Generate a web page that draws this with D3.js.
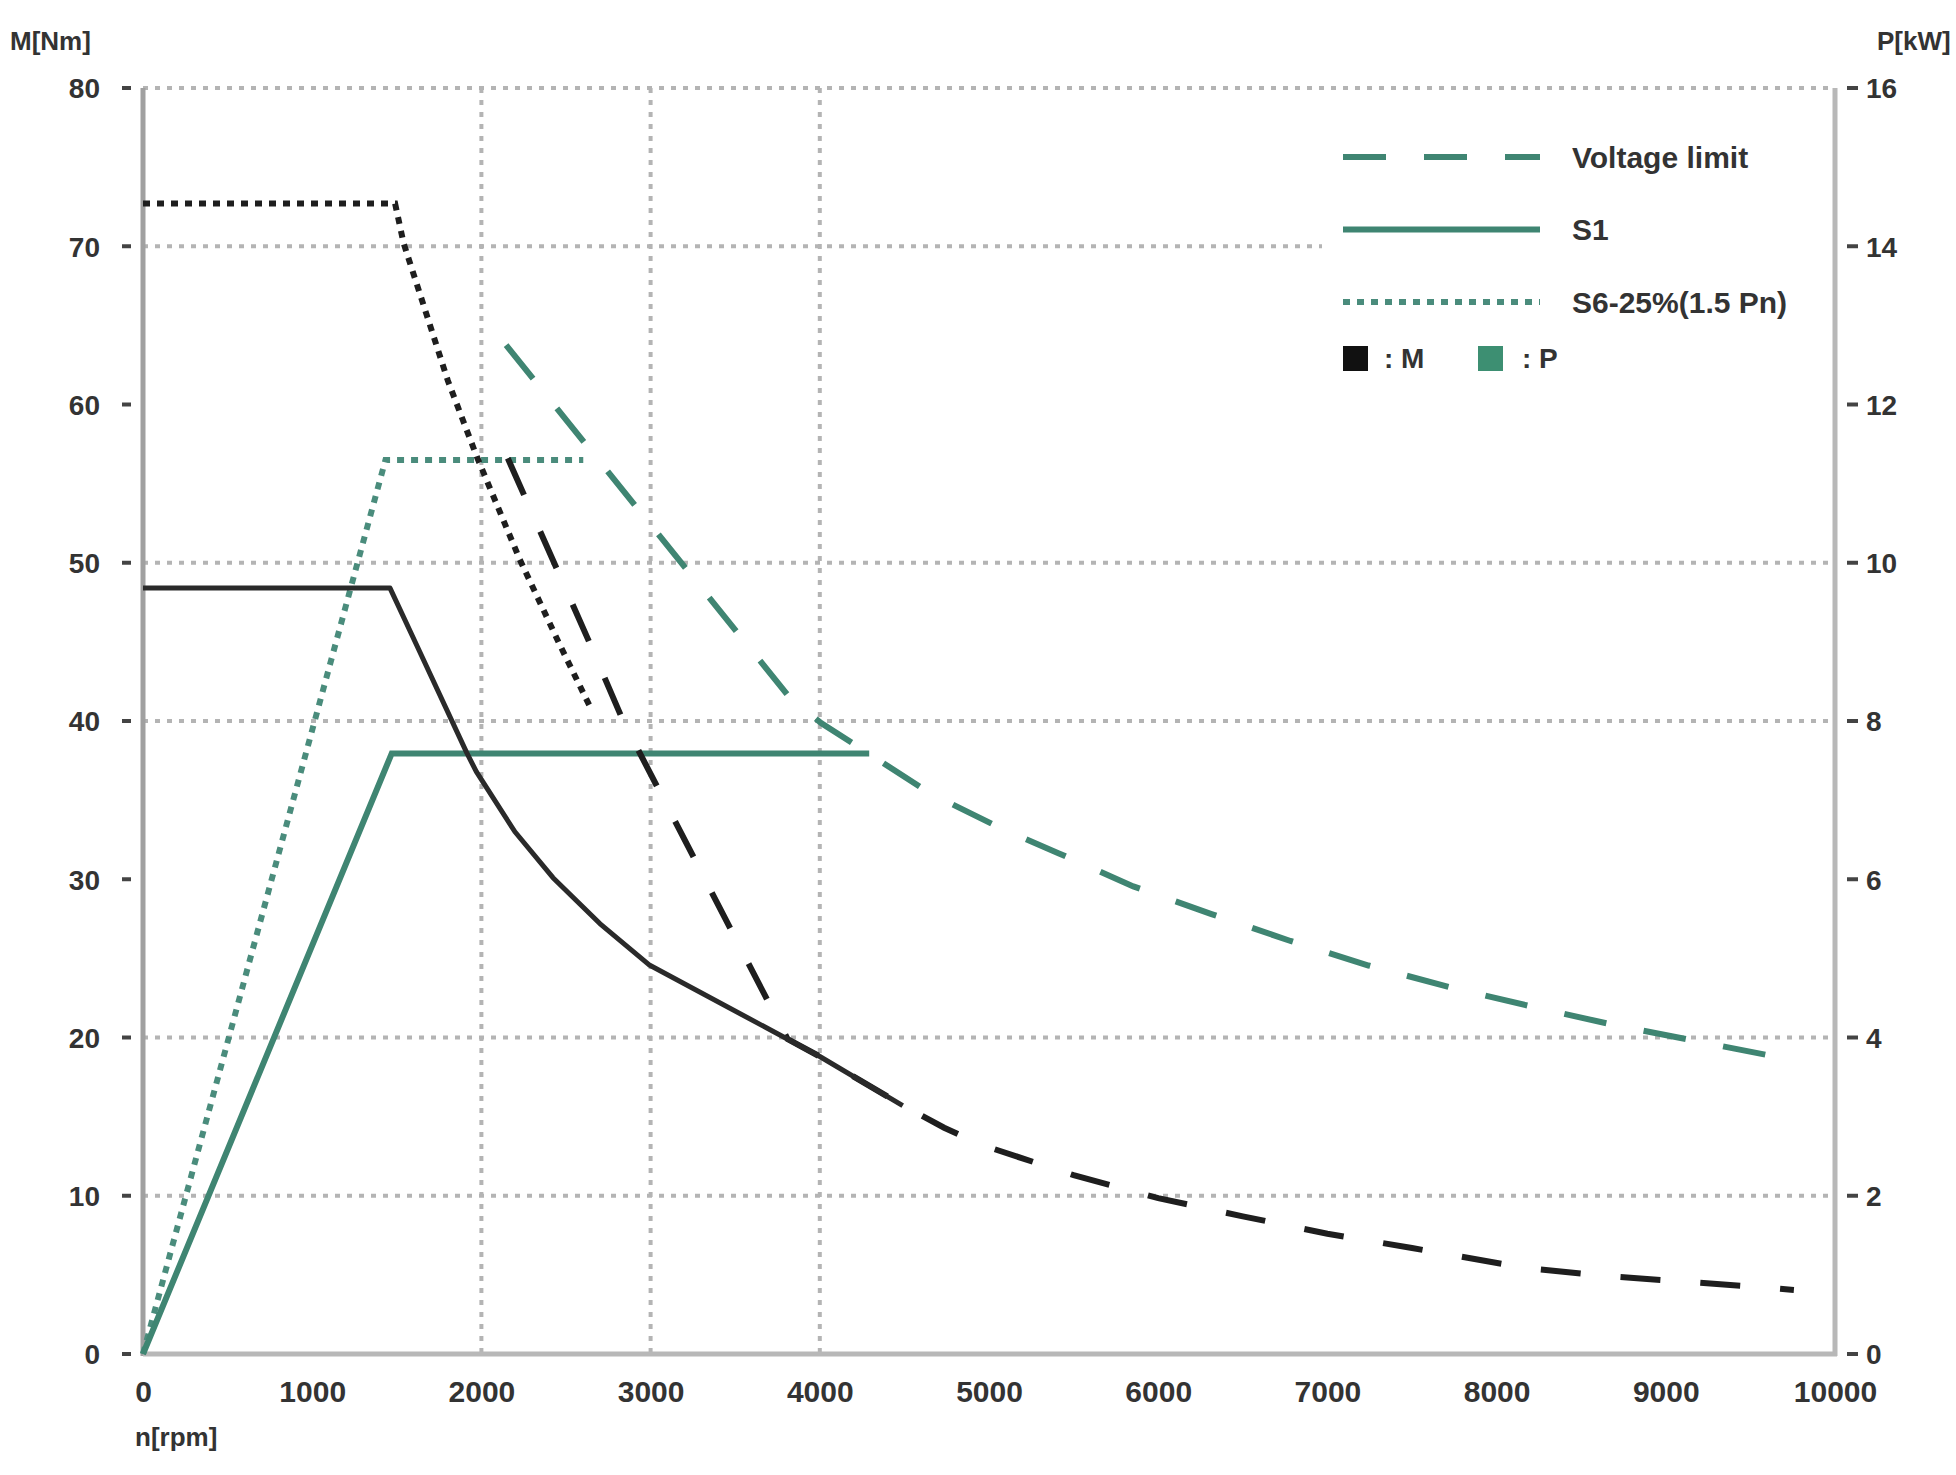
<!DOCTYPE html>
<html>
<head>
<meta charset="utf-8">
<script src="https://cdn.jsdelivr.net/npm/d3@7/dist/d3.min.js"></script>
<style>
  html, body { margin: 0; padding: 0; background: #fff; }
  svg { display: block; }
  text { font-family: "Liberation Sans", Arial, sans-serif; font-weight: bold; fill: #333; }
</style>
</head>
<body>
<script>
// Axis ticks and grid positions
const rpmTicks = [0, 1000, 2000, 3000, 4000, 5000, 6000, 7000, 8000, 9000, 10000];
const torqueTicks = [0, 10, 20, 30, 40, 50, 60, 70, 80];
const powerTicks = [0, 2, 4, 6, 8, 10, 12, 14, 16];
const torqueGrid = [10, 20, 40, 50, 70, 80];
const rpmGrid = [2000, 3000, 4000];

// Torque curves M [Nm] vs speed n [rpm]
const s1Torque = [[0, 48.4], [1460, 48.4], [1617, 44.8], [1913, 38.0], [1970, 36.8], [2198, 33.0],
  [2423, 30.1], [2700, 27.2], [2990, 24.6], [4000, 18.8], [4490, 15.7]];
const s6Torque = [[0, 72.7], [1490, 72.7], [1540, 70.2], [1802, 61.5], [1973, 56.7],
  [2227, 50.2], [2464, 44.8], [2642, 40.9]];
const vlimTorque = [[2156, 56.6], [2641, 44.9], [2836, 40.05], [3727, 21.6], [3810, 19.9],
  [4000, 18.8], [4490, 15.7], [4735, 14.3], [4960, 13.2], [5500, 11.3], [6000, 9.85],
  [6500, 8.7], [7000, 7.6], [7500, 6.7], [8172, 5.43], [8645, 4.93], [9136, 4.55],
  [9622, 4.17], [9757, 4.05]];

// Power curves P [kW] vs speed n [rpm]
const s1Power = [[0, 0], [1470, 7.59], [4292, 7.59]];
const s6Power = [[0, 0], [1433, 11.3], [2602, 11.3]];
const vlimPower = [[2146, 12.75], [3824, 8.29], [4010, 7.97], [4237, 7.66], [4648, 7.09],
  [5075, 6.64], [5410, 6.33], [5853, 5.91], [6315, 5.56], [6782, 5.22], [7243, 4.91],
  [7717, 4.64], [8190, 4.40], [8669, 4.17], [9143, 3.97], [9622, 3.77], [9740, 3.70]];

const legendLines = ["Voltage limit", "S1", "S6-25%(1.5 Pn)"];

const W = 1956, H = 1475;
const BLACK = "#1e1e1e", GREEN = "#3f8572", GRID = "#b4b4b4", AXIS = "#a0a0a0";

const svg = d3.select("body").append("svg").attr("width", W).attr("height", H);

const x = d3.scaleLinear().domain([0, 10000]).range([143, 1835]);
const yM = d3.scaleLinear().domain([0, 80]).range([1354, 88]);
const yP = d3.scaleLinear().domain([0, 16]).range([1354, 88]);

// Dotted grid
const grid = svg.append("g");
grid.selectAll("line.h").data(torqueGrid).join("line")
  .attr("x1", x(0)).attr("x2", x(10000))
  .attr("y1", d => yM(d)).attr("y2", d => yM(d))
  .attr("stroke", GRID).attr("stroke-width", 4).attr("stroke-dasharray", "5,7");
grid.selectAll("line.v").data(rpmGrid).join("line")
  .attr("x1", d => x(d)).attr("x2", d => x(d))
  .attr("y1", yM(80)).attr("y2", yM(0))
  .attr("stroke", GRID).attr("stroke-width", 4).attr("stroke-dasharray", "5,7");

// Axis frame lines (left, bottom, right)
svg.append("line").attr("x1", x(0)).attr("x2", x(0)).attr("y1", yM(80)).attr("y2", yM(0) + 2)
  .attr("stroke", AXIS).attr("stroke-width", 5);
svg.append("line").attr("x1", x(0)).attr("x2", x(10000) + 2).attr("y1", yM(0)).attr("y2", yM(0))
  .attr("stroke", "#b8b8b8").attr("stroke-width", 5);
svg.append("line").attr("x1", x(10000)).attr("x2", x(10000)).attr("y1", yM(80)).attr("y2", yM(0) + 2)
  .attr("stroke", "#b8b8b8").attr("stroke-width", 5);

// Left axis: torque
const leftAxis = d3.axisLeft(yM).tickValues(torqueTicks).tickSize(0).tickPadding(0);
const gL = svg.append("g").attr("transform", "translate(100,0)").call(leftAxis);
gL.select(".domain").remove();
gL.selectAll("text").attr("font-size", 28).attr("dy", "0.35em").attr("fill", "#333");
svg.append("g").selectAll("line").data(torqueTicks).join("line")
  .attr("x1", 122).attr("x2", 131).attr("y1", d => yM(d)).attr("y2", d => yM(d))
  .attr("stroke", "#444").attr("stroke-width", 4);

// Right axis: power
const rightAxis = d3.axisRight(yP).tickValues(powerTicks).tickSize(0).tickPadding(0);
const gR = svg.append("g").attr("transform", "translate(1866,0)").call(rightAxis);
gR.select(".domain").remove();
gR.selectAll("text").attr("font-size", 28).attr("dy", "0.35em").attr("fill", "#333");
svg.append("g").selectAll("line").data(powerTicks).join("line")
  .attr("x1", 1847).attr("x2", 1858).attr("y1", d => yP(d)).attr("y2", d => yP(d))
  .attr("stroke", "#444").attr("stroke-width", 4);

// Bottom axis: speed
const bottomAxis = d3.axisBottom(x).tickValues(rpmTicks).tickSize(0).tickPadding(0)
  .tickFormat(d3.format("d"));
const gB = svg.append("g").attr("transform", "translate(0,1381)").call(bottomAxis);
gB.select(".domain").remove();
gB.selectAll("text").attr("font-size", 30).attr("dy", "0.71em").attr("fill", "#333");

// Axis titles
svg.append("text").attr("x", 10).attr("y", 50).attr("font-size", 26).text("M[Nm]");
svg.append("text").attr("x", 1877).attr("y", 50).attr("font-size", 26).text("P[kW]");
svg.append("text").attr("x", 135).attr("y", 1446).attr("font-size", 26).text("n[rpm]");

// Curves
const lineM = d3.line().x(d => x(d[0])).y(d => yM(d[1]));
const lineP = d3.line().x(d => x(d[0])).y(d => yP(d[1]));
const curves = svg.append("g").attr("fill", "none");

curves.append("path").attr("d", lineP(vlimPower))
  .attr("stroke", GREEN).attr("stroke-width", 6).attr("stroke-dasharray", "43,38");
curves.append("path").attr("d", lineP(s6Power))
  .attr("stroke", "#4a8c7c").attr("stroke-width", 6).attr("stroke-dasharray", "7,7");
curves.append("path").attr("d", lineP(s1Power))
  .attr("stroke", GREEN).attr("stroke-width", 6);

curves.append("path").attr("d", lineM(vlimTorque))
  .attr("stroke", BLACK).attr("stroke-width", 6).attr("stroke-dasharray", "40,40");
curves.append("path").attr("d", lineM(s6Torque))
  .attr("stroke", BLACK).attr("stroke-width", 6).attr("stroke-dasharray", "7,7");
curves.append("path").attr("d", lineM(s1Torque))
  .attr("stroke", "#2a2a2a").attr("stroke-width", 5).attr("stroke-linejoin", "round");

// Legend
const lg = svg.append("g");
lg.append("rect").attr("x", 1322).attr("y", 112).attr("width", 508).attr("height", 276).attr("fill", "#fff");
const legendStyles = [
  { dash: "43,38", color: GREEN },
  { dash: null, color: GREEN },
  { dash: "7,7", color: "#4a8c7c" }
];
legendLines.forEach((label, i) => {
  const yy = 157 + i * 72.5;
  lg.append("line").attr("x1", 1343).attr("x2", 1540).attr("y1", yy).attr("y2", yy)
    .attr("stroke", legendStyles[i].color).attr("stroke-width", 6)
    .attr("stroke-dasharray", legendStyles[i].dash);
  lg.append("text").attr("x", 1572).attr("y", yy).attr("dy", "0.35em")
    .attr("font-size", 30).text(label);
});
lg.append("rect").attr("x", 1343).attr("y", 346).attr("width", 25).attr("height", 25).attr("fill", "#111");
lg.append("text").attr("x", 1384).attr("y", 358).attr("dy", "0.35em").attr("font-size", 28).text(": M");
lg.append("rect").attr("x", 1478).attr("y", 346).attr("width", 25).attr("height", 25).attr("fill", "#3d8f72");
lg.append("text").attr("x", 1522).attr("y", 358).attr("dy", "0.35em").attr("font-size", 28).text(": P");
</script>
</body>
</html>
